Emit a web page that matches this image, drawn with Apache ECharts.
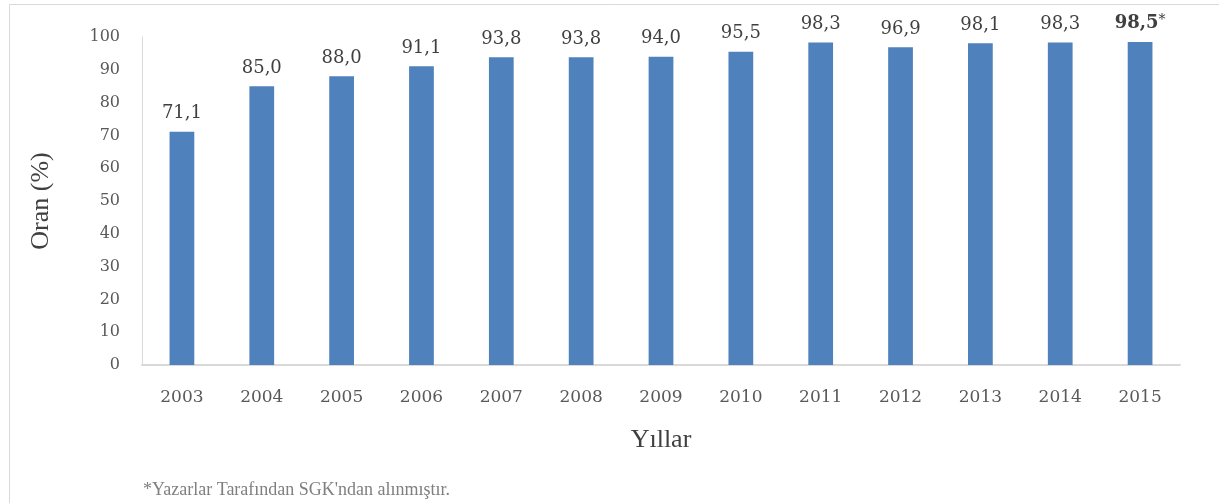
<!DOCTYPE html>
<html>
<head>
<meta charset="utf-8">
<script src="https://cdn.jsdelivr.net/npm/echarts@6/dist/echarts.min.js"></script>
<style>
html,body{margin:0;padding:0;background:#fff;}
#c{width:1219px;height:503px;}
</style>
</head>
<body>
<div id="c"></div>
<script>
const years = ['2003','2004','2005','2006','2007','2008','2009','2010','2011','2012','2013','2014','2015'];
const rates = [71.1, 85.0, 88.0, 91.1, 93.8, 93.8, 94.0, 95.5, 98.3, 96.9, 98.1, 98.3, 98.5];
const starredYear = '2015';
const yAxisTitle = 'Oran (%)';
const xAxisTitle = 'Yıllar';
const footnote = "*Yazarlar Tarafından SGK'ndan alınmıştır.";

const serif = '"Liberation Serif", "DejaVu Serif", serif';
const numFont = '"DejaVu Serif", serif';
const chart = echarts.init(document.getElementById('c'));
const fmt = v => v.toFixed(1).replace('.', ',');

chart.setOption({
  animation: false,
  backgroundColor: '#fff',
  grid: { left: 142, right: 39, top: 37, bottom: 138 },
  graphic: [
    { type: 'rect', left: 7, top: 2, shape: { width: 1210, height: 510 },
      style: { fill: 'none', stroke: '#d9d9d9', lineWidth: 1 }, silent: true },
    { type: 'text', left: 143, top: 481,
      style: { text: footnote, font: '18px ' + serif, fill: '#7f7f7f' } }
  ],
  xAxis: {
    type: 'category',
    data: years,
    name: xAxisTitle,
    nameLocation: 'middle',
    nameGap: 62,
    nameTextStyle: { fontFamily: serif, fontSize: 26, color: '#404040' },
    axisLine: { lineStyle: { color: '#d9d9d9', width: 2 } },
    axisTick: { show: false },
    axisLabel: { fontFamily: numFont, fontSize: 17, color: '#595959', margin: 24 }
  },
  yAxis: {
    type: 'value',
    min: 0, max: 100, interval: 10,
    name: yAxisTitle,
    nameLocation: 'middle',
    nameGap: 88,
    nameTextStyle: { fontFamily: serif, fontSize: 26, color: '#404040' },
    axisLine: { show: true, lineStyle: { color: '#d9d9d9', width: 1 } },
    axisTick: { show: false },
    splitLine: { show: false },
    axisLabel: { fontFamily: numFont, fontSize: 16, color: '#595959', margin: 22 }
  },
  series: [{
    type: 'bar',
    data: rates.map((v, i) => years[i] === starredYear ? {
      value: v,
      label: { formatter: p => '{b|' + fmt(p.value) + '}{s|*}' }
    } : v),
    barWidth: '31%',
    itemStyle: { color: '#4f81bd' },
    label: {
      show: true,
      position: 'top',
      distance: 9,
      fontFamily: numFont,
      fontSize: 18,
      color: '#404040',
      formatter: p => fmt(p.value),
      rich: {
        b: { fontFamily: numFont, fontSize: 18, fontWeight: 'bold', color: '#404040' },
        s: { fontFamily: numFont, fontSize: 14, color: '#404040', verticalAlign: 'top', padding: [0,0,6,0] }
      }
    }
  }]
});
</script>
</body>
</html>
